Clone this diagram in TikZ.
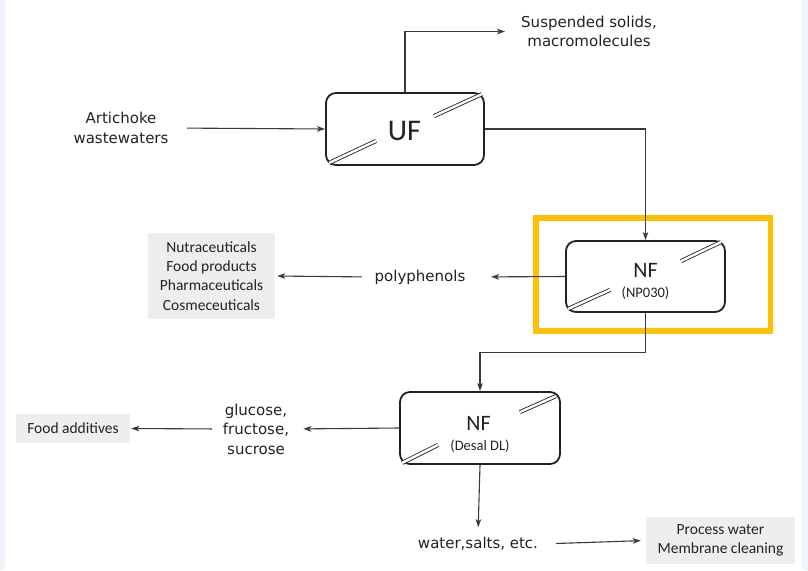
\documentclass[tikz,border=0pt]{standalone}
\usepackage{fontspec}
\setmainfont{DejaVu Sans}
\newfontfamily\calfont{Carlito}
\usetikzlibrary{arrows.meta,calc}
\definecolor{ink}{HTML}{222222}
\definecolor{wire}{HTML}{3A3A3A}
\definecolor{panel}{HTML}{EDEEED}
\definecolor{gold}{HTML}{FFC000}
\definecolor{strip}{HTML}{EEF3FC}
\tikzset{
  procbox/.style={draw=ink, line width=1.8pt, rounded corners=10pt, inner sep=0pt},
  slash/.style={draw=ink, double=white, double distance=2.4pt, line width=0.85pt},
  arr/.style={draw=wire, line width=1.1pt, -{Stealth[length=8pt,width=5.5pt,inset=2pt]}},
  plain/.style={draw=wire, line width=1.1pt},
  lab/.style={text=ink, align=center, inner sep=3pt, font=\fontsize{15}{19.5}\selectfont},
  grey/.style={fill=panel, text=ink, align=center, inner sep=0pt, font=\calfont\fontsize{15.5}{19.3}\selectfont},
  big/.style={text=ink, inner sep=0pt, anchor=base, font=\calfont\fontsize{22}{24}\selectfont},
  small/.style={text=ink, inner sep=0pt, anchor=base, font=\calfont\fontsize{14.5}{16}\selectfont}
}
\begin{document}
\begin{tikzpicture}[x=1pt, y=-1pt]
\useasboundingbox (0,0) rectangle (808,570);
\fill[white] (0,0) rectangle (808,570);
\fill[strip] (0,0) rectangle (5,570);
\fill[strip] (802,0) rectangle (808,570);

% process units
\node[procbox, minimum width=158, minimum height=72] (uf) at (405,129) {};
\node[procbox, minimum width=159, minimum height=71] (nf1) at (645.5,276.5) {};
\node[procbox, minimum width=160, minimum height=72] (nf2) at (480,428) {};

\node[text=ink, inner sep=0pt, anchor=base, font=\calfont\fontsize{30}{32}\selectfont] (uft) at (404.5,140) {UF};
\node[big] (nf1t) at (645.5,277) {NF};
\node[small] (nf1s) at (645.5,297) {(NP030)};
\node[big] (nf2t) at (478.5,430) {NF};
\node[small] (nf2s) at (480,450) {(Desal DL)};

% membrane slashes
\draw[slash] ($(uf.south west)+(4,-3)$) -- ($(uf.south west)+(51,-25)$);
\draw[slash] ($(uf.north east)+(-51,24)$) -- ($(uf.north east)+(-3,2)$);
\draw[slash] ($(nf1.south west)+(3,-4)$) -- ($(nf1.south west)+(45,-23)$);
\draw[slash] ($(nf1.north east)+(-45,21)$) -- ($(nf1.north east)+(-5,2)$);
\draw[slash] ($(nf2.south west)+(3,-2)$) -- ($(nf2.south west)+(39,-20)$);
\draw[slash] ($(nf2.north east)+(-41,21)$) -- ($(nf2.north east)+(-5,5)$);

% highlight frame
\draw[gold, line width=5.5pt] (536,218) rectangle (770.5,331);

% labels
\node[lab] (art) at (121,128) {Artichoke\\wastewaters};
\node[lab, font=\fontsize{15}{19}\selectfont] (susp) at (589,31.5) {Suspended solids,\\macromolecules};
\node[lab] (poly) at (420,277) {polyphenols};
\node[lab] (gluc) at (256,429) {glucose,\\fructose,\\sucrose};
\node[lab] (water) at (478,544) {water,salts, etc.};

\node[grey, minimum width=127, minimum height=86] (nutra) at (211.5,276) {Nutraceuticals\\Food products\\Pharmaceuticals\\Cosmeceuticals};
\node[grey, minimum width=114, minimum height=29] (food) at (73,428.5) {Food additives};
\node[grey, minimum width=149, minimum height=47] (proc) at (720.5,540.5) {Process water\\Membrane cleaning};

% connectors
\draw[arr, shorten <=15.5pt] (art.east) -- (uf.west);
\draw[arr, shorten >=13pt] (uf.north) |- (susp.west);
\draw[arr] (uf.east) -| (nf1.north);
\draw[arr, shorten >=22.5pt] (nf1.west) -- (poly.east);
\draw[arr, shorten <=9.5pt, shorten >=2pt] (poly.west) -- (nutra.east);
\draw[arr] (nf1.south) -- ++(0,40) -| (nf2.north);
\draw[arr, shorten >=11pt] (nf2.west) -- (gluc.east);
\draw[arr, shorten <=8pt, shorten >=1pt] (gluc.west) -- (food.east);
\draw[arr, shorten >=7pt] (nf2.south) -- (water.north);
\draw[arr, shorten <=15pt, shorten >=5pt] (water.east) -- (proc.west);
\end{tikzpicture}
\end{document}
